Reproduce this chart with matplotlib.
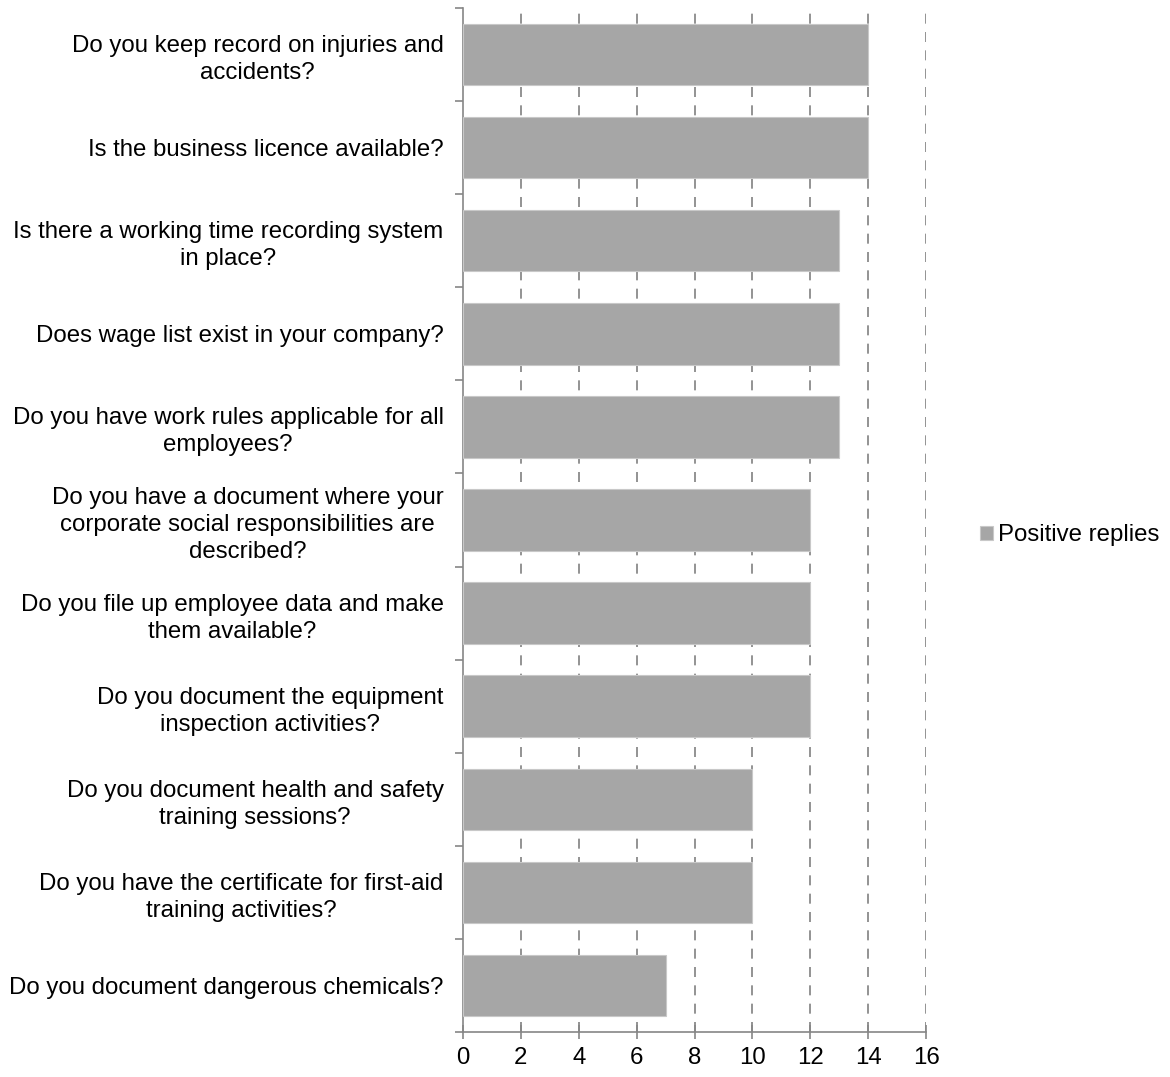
import numpy as np
import matplotlib.pyplot as plt
from matplotlib.ticker import FixedLocator

plt.rcParams['font.family'] = ['Liberation Sans', 'DejaVu Sans']

questions = [
    "Do you keep record on injuries and\naccidents?",
    "Is the business licence available?",
    "Is there a working time recording system\nin place?",
    "Does wage list exist in your company?",
    "Do you have work rules applicable for all\nemployees?",
    "Do you have a document where your\ncorporate social responsibilities are\ndescribed?",
    "Do you file up employee data and make\nthem available?",
    "Do you document the equipment\ninspection activities?",
    "Do you document health and safety\ntraining sessions?",
    "Do you have the certificate for first-aid\ntraining activities?",
    "Do you document dangerous chemicals?",
]
positive = [14, 14, 13, 13, 13, 12, 12, 12, 10, 10, 7]
x_ticks = [0, 2, 4, 6, 8, 10, 12, 14, 16]

fig = plt.figure(figsize=(11.7, 10.77), dpi=100)
ax = fig.add_axes([0.3957, 0.0418, 0.3958, 0.9508])

y = np.arange(len(questions))
ax.barh(y, positive, height=0.66, color="#a6a6a6", edgecolor="#c8c8c8",
        linewidth=0.8, label="Positive replies", zorder=3)

ax.set_ylim(len(questions) - 0.5, -0.5)
ax.set_xlim(0, 16)
ax.set_yticks(y)
ax.set_yticklabels(questions, fontsize=17.3, multialignment="center",
                   linespacing=1.3)
ax.yaxis.set_minor_locator(FixedLocator(np.arange(-0.5, len(questions), 1)))
ax.tick_params(axis="y", which="major", length=0, pad=14)
ax.tick_params(axis="y", which="minor", length=6, width=1.2, color="#868686")

ax.set_xticks(x_ticks)
ax.set_xticklabels([str(t) for t in x_ticks], fontsize=17.3)
ax.tick_params(axis="x", direction="inout", length=10, width=1.2,
               color="#868686", pad=6)

for t in x_ticks[1:]:
    ax.axvline(t, color="#808080", linestyle=(0, (6, 5)), linewidth=1.2, zorder=1)

for side in ["top", "right"]:
    ax.spines[side].set_visible(False)
for side in ["left", "bottom"]:
    ax.spines[side].set_color("#868686")
    ax.spines[side].set_linewidth(1.2)

# legend sits to the right of the plot, a little below its middle
ax.legend(loc="center left", bbox_to_anchor=(1.095, 0.485), frameon=False,
          fontsize=17.3, handlelength=0.55, handleheight=0.55,
          handletextpad=0.2, borderaxespad=0)

fig.savefig("out.png", dpi=100)
